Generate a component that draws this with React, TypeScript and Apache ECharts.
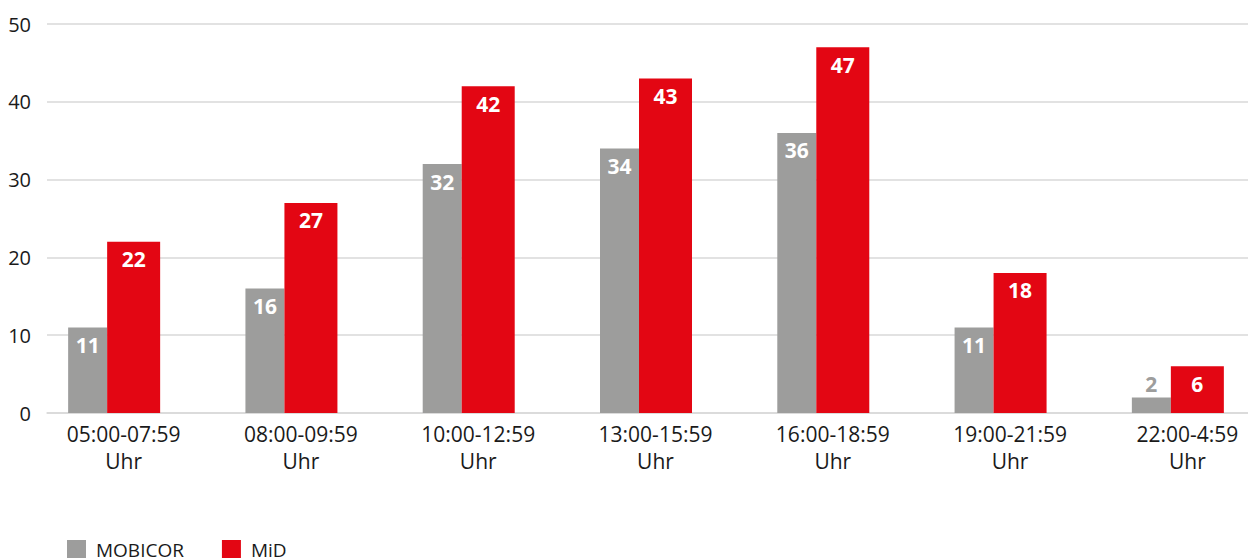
import React, { useEffect, useRef } from "react";
import * as echarts from "echarts";

const categories = [
  "05:00-07:59\nUhr",
  "08:00-09:59\nUhr",
  "10:00-12:59\nUhr",
  "13:00-15:59\nUhr",
  "16:00-18:59\nUhr",
  "19:00-21:59\nUhr",
  "22:00-4:59\nUhr",
];
const mobicor = [11, 16, 32, 34, 36, 11, 2];
const mid = [22, 27, 42, 43, 47, 18, 6];
const yTicks = [0, 10, 20, 30, 40, 50];

const GRAY = "#9d9d9c";
const RED = "#e30613";
const FONT = "Open Sans";

export default function App() {
  const ref = useRef<HTMLDivElement>(null);
  useEffect(() => {
    if (!ref.current) return;
    const chart = echarts.init(ref.current, undefined, { renderer: "svg" });
    const labelBase = {
      show: true,
      position: "insideTop",
      distance: 7,
      color: "#ffffff",
      fontFamily: FONT,
      fontWeight: "bold",
      fontSize: 21,
    };
    chart.setOption({
      animation: false,
      backgroundColor: "#ffffff",
      grid: { left: 47, top: 24, width: 1241, height: 389, containLabel: false },
      legend: {
        data: ["MOBICOR", "MiD"],
        left: 62,
        top: 535,
        itemWidth: 19,
        itemHeight: 19,
        itemGap: 38,
        icon: "rect",
        textStyle: { fontFamily: FONT, fontSize: 19, color: "#1a1a1a", padding: [0, 0, 0, 5] },
      },
      xAxis: {
        type: "category",
        data: categories,
        axisLine: { show: true, lineStyle: { color: "#d9d9d9", width: 1.5 } },
        axisTick: { show: false },
        axisLabel: {
          color: "#1a1a1a",
          fontFamily: FONT,
          fontSize: 21,
          lineHeight: 27,
          margin: 7,
          padding: [0, 24, 0, 0],
          interval: 0,
        },
      },
      yAxis: {
        type: "value",
        min: yTicks[0],
        max: yTicks[yTicks.length - 1],
        interval: 10,
        axisLine: { show: false },
        axisTick: { show: false },
        splitLine: { lineStyle: { color: "#d9d9d9", width: 1.5 } },
        axisLabel: { color: "#1a1a1a", fontFamily: FONT, fontSize: 20, margin: 16 },
      },
      series: [
        {
          name: "MOBICOR",
          type: "bar",
          barWidth: 39,
          barGap: "0%",
          itemStyle: { color: GRAY },
          label: labelBase,
          data: mobicor.map((v) =>
            v < 5
              ? { value: v, label: { position: "top", distance: 3, color: GRAY } }
              : v
          ),
        },
        {
          name: "MiD",
          type: "bar",
          barWidth: 53,
          barGap: "0%",
          itemStyle: { color: RED },
          label: labelBase,
          data: mid,
        },
        {
          name: "spacer",
          type: "bar",
          barWidth: 43,
          barGap: "0%",
          silent: true,
          itemStyle: { color: "transparent" },
          data: mid.map(() => "-"),
        },
      ],
    });
    return () => chart.dispose();
  }, []);
  return (
    <div
      ref={ref}
      style={{ position: "fixed", left: 0, top: 0, width: 1292, height: 558, background: "#fff" }}
    />
  );
}
